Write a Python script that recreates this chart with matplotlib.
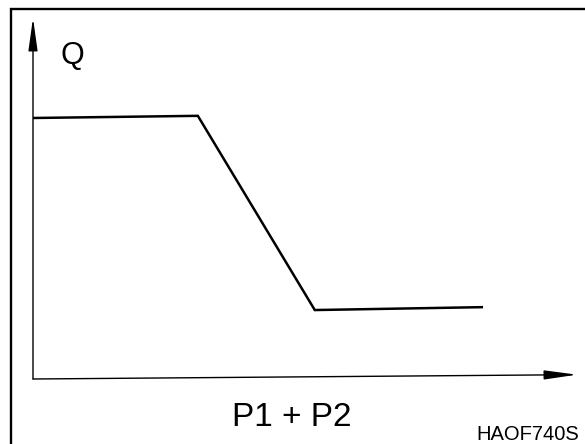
import matplotlib.pyplot as plt
from matplotlib.patches import Rectangle

# Q against P1 + P2 (arbitrary units)
p_sum = [0.0, 3.03, 5.18, 8.25]
q_flow = [7.23, 7.29, 1.91, 1.99]

x_label = "P1 + P2"
y_label = "Q"
ref_code = "HAOF740S"

plt.rcParams['font.family'] = ['Liberation Sans', 'DejaVu Sans']

fig = plt.figure(figsize=(5.85, 4.44), dpi=100)

# outer frame, only its left and top edges fall inside the image
fig.patches.append(Rectangle((11 / 585, -0.1), 1.2, (444 - 9) / 444 + 0.1,
                             transform=fig.transFigure, fill=False,
                             edgecolor='black', linewidth=1.7))

ax = fig.add_axes([33 / 585, 65 / 444, 544 / 585, 361 / 444])
ax.set_xlim(0, 10)
ax.set_ylim(0, 10)
ax.axis('off')

ax.plot(p_sum, q_flow, color='black', linewidth=1.8, solid_joinstyle='miter')

# axes with arrow heads
arrow = dict(arrowstyle='-|>,head_length=2.0,head_width=0.28',
             mutation_scale=10, lw=1.0, color='black', shrinkA=0, shrinkB=0)
ax.annotate('', xy=(1, 0.012), xytext=(0, 0), xycoords='axes fraction',
            arrowprops=arrow)
ax.annotate('', xy=(0, 1), xytext=(0, 0), xycoords='axes fraction',
            arrowprops=arrow)

fig.text(61 / 585, (444 - 64) / 444, y_label, fontsize=22,
         ha='left', va='baseline')
fig.text(292 / 585, (444 - 426) / 444, x_label, fontsize=24,
         ha='center', va='baseline')
fig.text(476 / 585, (444 - 440) / 444, ref_code, fontsize=14.5,
         ha='left', va='baseline')

fig.savefig('out.png', dpi=100)
